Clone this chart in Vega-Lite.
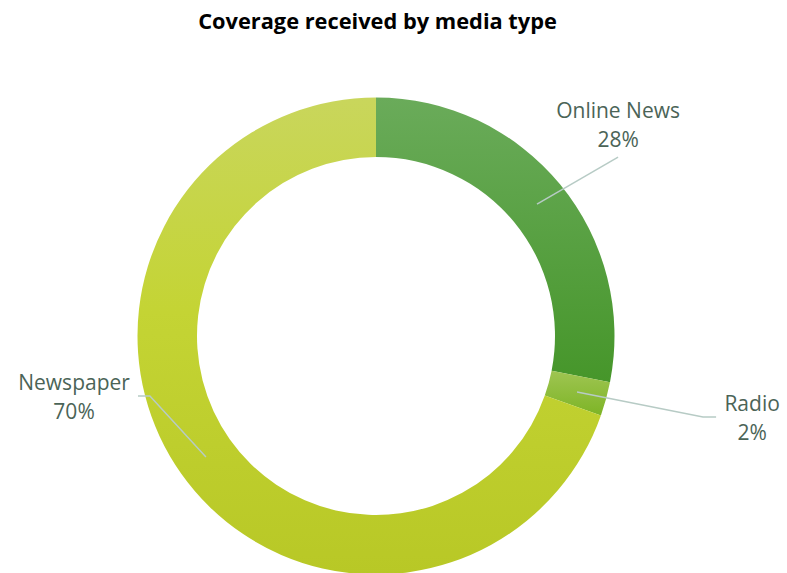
{
  "$schema": "https://vega.github.io/schema/vega-lite/v6.json",
  "width": 787,
  "height": 533,
  "autosize": {"type": "none"},
  "padding": {"top": 40, "left": 0, "right": 0, "bottom": 0},
  "background": "white",
  "title": {"text": "Coverage received by media type", "font": "Open Sans", "fontSize": 21.8, "fontWeight": "bold", "color": "#000000", "anchor": "middle", "dx": -16, "offset": 6},
  "config": {"view": {"stroke": null}},
  "data": {"values": [
    {"media": "Online News", "share": 28.1, "order": 1},
    {"media": "Radio", "share": 2.3, "order": 2},
    {"media": "Newspaper", "share": 69.6, "order": 3}
  ]},
  "layer": [
    {
      "transform": [
        {"stack": "share", "groupby": [], "sort": [{"field": "order", "order": "ascending"}], "as": ["s0", "s1"]},
        {"filter": "datum.media === 'Online News'"}
      ],
      "mark": {"type": "arc", "innerRadius": 179, "outerRadius": 238.5,
        "color": {"gradient": "linear", "x1": 0, "y1": 0, "x2": 0, "y2": 1, "stops": [{"offset": 0, "color": "#6aab5a"}, {"offset": 1, "color": "#46962a"}]}},
      "encoding": {
        "theta": {"field": "s0", "type": "quantitative", "scale": {"domain": [0, 100]}},
        "theta2": {"field": "s1"},
        "x": {"datum": 0, "type": "quantitative", "scale": {"domain": [-157.65, 172.33], "nice": false, "zero": false}, "axis": null},
        "y": {"datum": 0, "type": "quantitative", "scale": {"domain": [-99.37, 124.11], "nice": false, "zero": false}, "axis": null}
      }
    },
    {
      "transform": [
        {"stack": "share", "groupby": [], "sort": [{"field": "order", "order": "ascending"}], "as": ["s0", "s1"]},
        {"filter": "datum.media === 'Radio'"}
      ],
      "mark": {"type": "arc", "innerRadius": 179, "outerRadius": 238.5,
        "color": {"gradient": "linear", "x1": 0, "y1": 0, "x2": 0, "y2": 1, "stops": [{"offset": 0, "color": "#9fc552"}, {"offset": 1, "color": "#7db426"}]}},
      "encoding": {
        "theta": {"field": "s0", "type": "quantitative", "scale": {"domain": [0, 100]}},
        "theta2": {"field": "s1"},
        "x": {"datum": 0, "type": "quantitative"},
        "y": {"datum": 0, "type": "quantitative"}
      }
    },
    {
      "transform": [
        {"stack": "share", "groupby": [], "sort": [{"field": "order", "order": "ascending"}], "as": ["s0", "s1"]},
        {"filter": "datum.media === 'Newspaper'"}
      ],
      "mark": {"type": "arc", "innerRadius": 179, "outerRadius": 238.5,
        "color": {"gradient": "linear", "x1": 0, "y1": 0, "x2": 0, "y2": 1, "stops": [{"offset": 0, "color": "#c9d65c"}, {"offset": 0.45, "color": "#c4d434"}, {"offset": 1, "color": "#b8c826"}]}},
      "encoding": {
        "theta": {"field": "s0", "type": "quantitative", "scale": {"domain": [0, 100]}},
        "theta2": {"field": "s1"},
        "x": {"datum": 0, "type": "quantitative"},
        "y": {"datum": 0, "type": "quantitative"}
      }
    },
    {
      "data": {"values": [
        {"media": "Online News", "idx": 0, "px": 67.5, "py": 55.3},
        {"media": "Online News", "idx": 1, "px": 101.5, "py": 75.0},
        {"media": "Radio", "idx": 0, "px": 84.3, "py": -23.5},
        {"media": "Radio", "idx": 1, "px": 137.1, "py": -34.0},
        {"media": "Radio", "idx": 2, "px": 142.6, "py": -34.0},
        {"media": "Newspaper", "idx": 0, "px": -71.3, "py": -50.7},
        {"media": "Newspaper", "idx": 1, "px": -94.8, "py": -25.2},
        {"media": "Newspaper", "idx": 2, "px": -99.8, "py": -25.2}
      ]},
      "mark": {"type": "line", "color": "#b7cbc5", "strokeWidth": 1.5},
      "encoding": {
        "x": {"field": "px", "type": "quantitative"},
        "y": {"field": "py", "type": "quantitative"},
        "detail": {"field": "media"},
        "order": {"field": "idx"}
      }
    },
    {
      "data": {"values": [
        {"label": "Online News\n28%", "lx": 101.5, "ly": 91.4},
        {"label": "Radio\n2%", "lx": 157.7, "ly": -31.4},
        {"label": "Newspaper\n70%", "lx": -126.6, "ly": -22.6}
      ]},
      "mark": {"type": "text", "font": "Open Sans", "fontSize": 21, "color": "#4b6457", "align": "center", "baseline": "alphabetic", "lineBreak": "\n", "lineHeight": 29},
      "encoding": {
        "x": {"field": "lx", "type": "quantitative"},
        "y": {"field": "ly", "type": "quantitative"},
        "text": {"field": "label"}
      }
    }
  ]
}
